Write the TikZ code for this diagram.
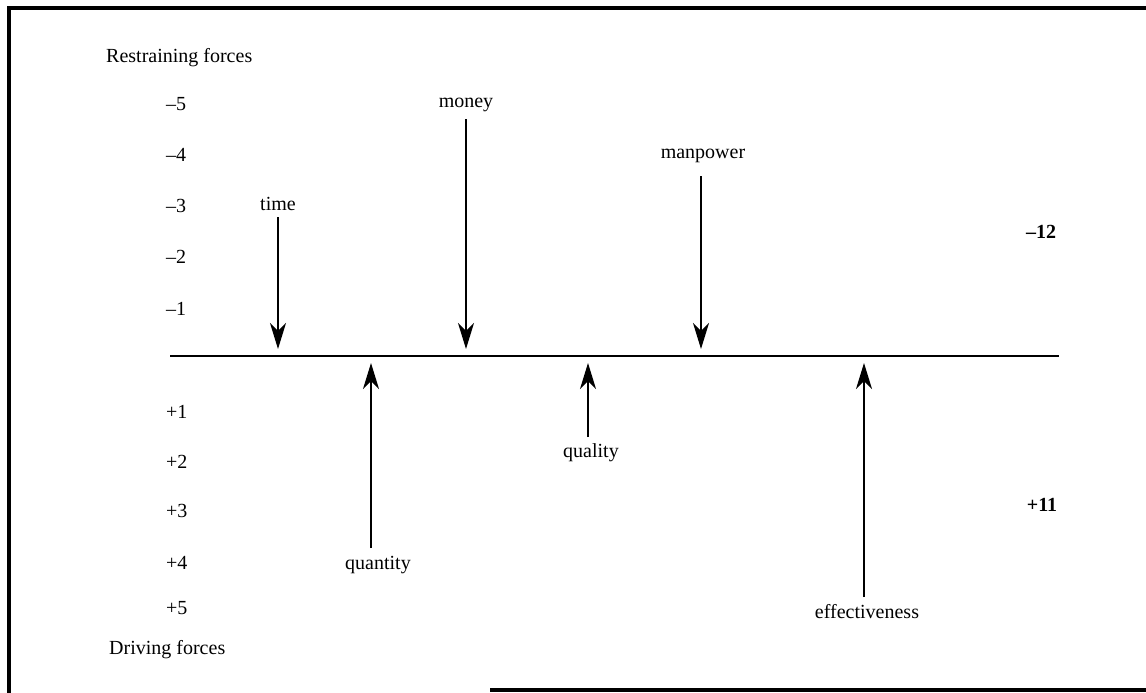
\documentclass[tikz,border=0pt]{standalone}
\usepackage{fontspec}
\setmainfont{Liberation Serif}
\usetikzlibrary{arrows.meta}
\begin{document}
\begin{tikzpicture}[x=1pt,y=-1pt,
  lbl/.style={font=\fontsize{20}{22}\selectfont, inner sep=0pt, anchor=center},
  ticklbl/.style={font=\fontsize{20}{22}\selectfont, inner sep=0pt, anchor=west},
  total/.style={font=\bfseries\fontsize{20}{22}\selectfont, inner sep=0pt, anchor=center},
  force/.style={line width=1.8pt, -{Stealth[length=26pt,width=16pt,inset=8pt]}},
  frame/.style={line width=3.2pt}]
\useasboundingbox (0,0) rectangle (1146,693);
% frame
\draw[frame] (7,8) -- (1146,8);
\draw[frame] (9,6.4) -- (9,693);
\draw[frame] (490,690) -- (1146,690);
% axis
\coordinate (axL) at (170,356);
\coordinate (axR) at (1059,356);
\draw[line width=2.6pt] (axL) -- (axR);
% headings
\node[ticklbl] (rf) at (106,58) {Restraining forces};
\node[ticklbl] (df) at (109,650) {Driving forces};
% scale values
\node[ticklbl] (m5) at (166,104) {–5};
\node[ticklbl] (m4) at (166,155) {–4};
\node[ticklbl] (m3) at (166,206) {–3};
\node[ticklbl] (m2) at (166,257) {–2};
\node[ticklbl] (m1) at (166,309) {–1};
\node[ticklbl] (p1) at (166,412) {+1};
\node[ticklbl] (p2) at (166,462) {+2};
\node[ticklbl] (p3) at (166,511) {+3};
\node[ticklbl] (p4) at (166,563) {+4};
\node[ticklbl] (p5) at (166,608) {+5};
% totals
\node[total] (tneg) at (1041,232) {–12};
\node[total] (tpos) at (1042,505) {+11};
% restraining forces
\node[lbl] (time) at (278,204) {time};
\node[lbl] (money) at (466,105) {money};
\node[lbl] (manpower) at (703,156) {manpower};
\coordinate (timeTip) at (278,349);
\coordinate (moneyTip) at (466,349);
\coordinate (manTip) at (701,349);
\draw[force] (timeTip |- 0,217) -- (timeTip);
\draw[force] (moneyTip |- 0,119) -- (moneyTip);
\draw[force] (manTip |- 0,176) -- (manTip);
% driving forces
\node[lbl] (quantity) at (378,565) {quantity};
\node[lbl] (quality) at (591,453) {quality};
\node[lbl] (effect) at (867,612) {effectiveness};
\coordinate (quantTip) at (371,363);
\coordinate (qualTip) at (588,363);
\coordinate (effTip) at (864,363);
\draw[force] (quantTip |- 0,548) -- (quantTip);
\draw[force] (qualTip |- 0,437) -- (qualTip);
\draw[force] (effTip |- 0,597) -- (effTip);
\end{tikzpicture}
\end{document}
